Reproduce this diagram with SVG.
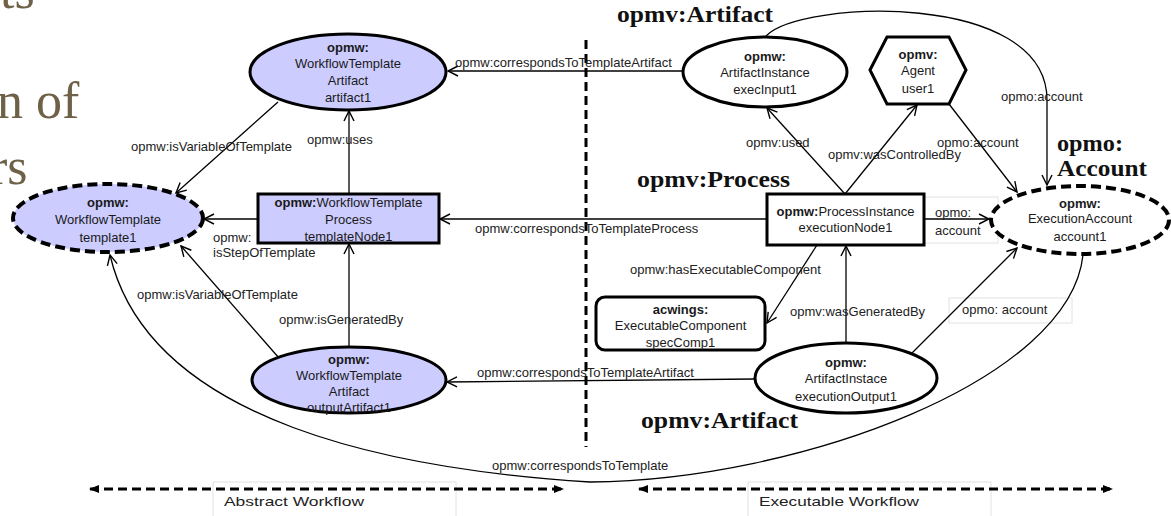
<svg xmlns="http://www.w3.org/2000/svg" width="1171" height="516" viewBox="0 0 1171 516">
<style>
.bg{font-family:"Liberation Serif",serif;font-size:52px;fill:#6f6148}
.ttl{font-family:"Liberation Serif",serif;font-size:24px;font-weight:bold;fill:#111}
.nt{font-family:"Liberation Sans",Arial,sans-serif;font-size:13px;fill:#1a1a1a;text-anchor:middle}
.b{font-weight:bold}
.lb{font-family:"Liberation Sans",Arial,sans-serif;font-size:13px;fill:#222}
.fill{fill:#ccccff;stroke:#000;stroke-width:3}
.wfill{fill:#fff;stroke:#000;stroke-width:3}
.dash{stroke-dasharray:10 5;stroke-width:4}
.c{fill:none;stroke:#000;stroke-width:1.3;marker-end:url(#arr)}
.gbox{fill:#fff;stroke:#e2e2e2;stroke-width:1}
.hd{fill:none;stroke:#000;stroke-width:3;stroke-dasharray:9 5;marker-start:url(#tri);marker-end:url(#tri)}
</style>
<defs>
<marker id="arr" viewBox="0 0 12 12" refX="11" refY="6" markerWidth="12" markerHeight="12" markerUnits="userSpaceOnUse" orient="auto">
<path d="M1,1 L11,6 L1,11" fill="none" stroke="#000" stroke-width="1.4"/>
</marker>
<marker id="tri" viewBox="0 0 10 10" refX="9" refY="5" markerWidth="10" markerHeight="10" markerUnits="userSpaceOnUse" orient="auto-start-reverse">
<path d="M0,1 L10,5 L0,9 z" fill="#000"/>
</marker>
</defs>
<rect width="1171" height="516" fill="#fff"/>
<g id="background-text">
<text class="bg" x="0" y="8">ts</text>
<text class="bg" x="-3" y="118">n of</text>
<text class="bg" x="-10" y="184">rs</text>
</g>
<g id="titles">
<text class="ttl" x="617" y="22" textLength="156" lengthAdjust="spacingAndGlyphs">opmv:Artifact</text>
<text class="ttl" x="637" y="187" textLength="153" lengthAdjust="spacingAndGlyphs">opmv:Process</text>
<text class="ttl" x="1057" y="151" textLength="66" lengthAdjust="spacingAndGlyphs">opmo:</text>
<text class="ttl" x="1057" y="176" textLength="90" lengthAdjust="spacingAndGlyphs">Account</text>
<text class="ttl" x="641" y="428" textLength="157" lengthAdjust="spacingAndGlyphs">opmv:Artifact</text>
</g>
<g id="label-boxes">
<rect class="gbox" x="924" y="197" width="74" height="46"/>
<rect class="gbox" x="949" y="298" width="123" height="25"/>
<rect class="gbox" x="213" y="482" width="243" height="40"/>
<rect class="gbox" x="748" y="482" width="243" height="40"/>
</g>
<g id="divider">
<line x1="586" y1="40" x2="586" y2="447" stroke="#000" stroke-width="3" stroke-dasharray="9 5"/>
<line class="hd" x1="90" y1="489" x2="563" y2="489"/>
<line class="hd" x1="639" y1="489" x2="1112" y2="489"/>
<text class="lb" x="224" y="506" font-size="16" textLength="140" lengthAdjust="spacingAndGlyphs">Abstract Workflow</text>
<text class="lb" x="759" y="506" font-size="16" textLength="160" lengthAdjust="spacingAndGlyphs">Executable Workflow</text>
</g>
<g id="connectors">
<path class="c" d="M683,71 L448,71"/>
<path class="c" d="M767,219 L440,219"/>
<path class="c" d="M755,379 L447,382"/>
<path class="c" d="M258,219 L204,219"/>
<path class="c" d="M349,194 L349,111"/>
<path class="c" d="M349,347 L349,244"/>
<path class="c" d="M278,102 L176,193"/>
<path class="c" d="M279,358 L181,246"/>
<path class="c" d="M1083,255 C1070,380 800,480 590,482 C400,470 150,425 110,255"/>
<path class="c" d="M845,194 L767,108"/>
<path class="c" d="M845,194 L917,105"/>
<path class="c" d="M949,104 L1017,192"/>
<path class="c" d="M766,36 C800,0 1047,-10 1047,100 L1047,185"/>
<path class="c" d="M924,219 L989,219"/>
<path class="c" d="M912,353 L1017,248"/>
<path class="c" d="M817,245 L767,323"/>
<path class="c" d="M846,343 L846,246"/>
</g>
<g id="connector-labels">
<text class="lb" x="455" y="67">opmw:correspondsToTemplateArtifact</text>
<text class="lb" x="475" y="233">opmw:correspondsToTemplateProcess</text>
<text class="lb" x="477" y="377">opmw:correspondsToTemplateArtifact</text>
<text class="lb" x="213" y="242">opmw:</text>
<text class="lb" x="213" y="257">isStepOfTemplate</text>
<text class="lb" x="307" y="144">opmw:uses</text>
<text class="lb" x="279" y="324">opmw:isGeneratedBy</text>
<text class="lb" x="131" y="151">opmw:isVariableOfTemplate</text>
<text class="lb" x="137" y="299">opmw:isVariableOfTemplate</text>
<text class="lb" x="492" y="470">opmw:correspondsToTemplate</text>
<text class="lb" x="746" y="147">opmv:used</text>
<text class="lb" x="828" y="159">opmv:wasControlledBy</text>
<text class="lb" x="937" y="147">opmo:account</text>
<text class="lb" x="1001" y="101">opmo:account</text>
<text class="lb" x="935" y="217">opmo:</text>
<text class="lb" x="935" y="235">account</text>
<text class="lb" x="630" y="274">opmw:hasExecutableComponent</text>
<text class="lb" x="790" y="316">opmv:wasGeneratedBy</text>
<text class="lb" x="962" y="314">opmo: account</text>
</g>
<g id="template1">
<ellipse class="fill dash" cx="108" cy="218" rx="95" ry="34"/>
<text class="nt b" x="108" y="207">opmw:</text>
<text class="nt" x="108" y="224">WorkflowTemplate</text>
<text class="nt" x="108" y="242">template1</text>
</g>
<g id="artifact1">
<ellipse class="fill" cx="348" cy="72" rx="98" ry="38"/>
<text class="nt b" x="348" y="52">opmw:</text>
<text class="nt" x="348" y="68">WorkflowTemplate</text>
<text class="nt" x="348" y="85">Artifact</text>
<text class="nt" x="348" y="102">artifact1</text>
</g>
<g id="templateNode1">
<rect class="fill" x="258" y="194" width="181" height="49"/>
<text class="nt" x="348.5" y="207"><tspan class="b">opmw:</tspan>WorkflowTemplate</text>
<text class="nt" x="348.5" y="224">Process</text>
<text class="nt" x="348.5" y="241">templateNode1</text>
</g>
<g id="outputArtifact1">
<ellipse class="fill" cx="349" cy="380" rx="97" ry="33"/>
<text class="nt b" x="349" y="364">opmw:</text>
<text class="nt" x="349" y="380">WorkflowTemplate</text>
<text class="nt" x="349" y="396">Artifact</text>
<text class="nt" x="349" y="412">outputArtifact1</text>
</g>
<g id="execInput1">
<ellipse class="wfill" cx="765" cy="72" rx="82" ry="35"/>
<text class="nt b" x="765" y="61">opmw:</text>
<text class="nt" x="765" y="77">ArtifactInstance</text>
<text class="nt" x="765" y="94">execInput1</text>
</g>
<g id="user1">
<polygon class="wfill" points="870,70 887,37 949,37 966,70 949,104 887,104"/>
<text class="nt b" x="918" y="59">opmv:</text>
<text class="nt" x="918" y="75">Agent</text>
<text class="nt" x="918" y="93">user1</text>
</g>
<g id="executionNode1">
<rect class="wfill" x="767" y="194" width="157" height="51"/>
<text class="nt" x="845.5" y="216"><tspan class="b">opmw:</tspan>ProcessInstance</text>
<text class="nt" x="845.5" y="232">executionNode1</text>
</g>
<g id="account1">
<ellipse class="wfill dash" cx="1080" cy="220" rx="89" ry="34"/>
<text class="nt b" x="1080" y="208">opmw:</text>
<text class="nt" x="1080" y="223">ExecutionAccount</text>
<text class="nt" x="1080" y="241">account1</text>
</g>
<g id="specComp1">
<rect class="wfill" x="596" y="297" width="169" height="53" rx="9"/>
<text class="nt b" x="680.5" y="314">acwings:</text>
<text class="nt" x="680.5" y="330">ExecutableComponent</text>
<text class="nt" x="680.5" y="347">specComp1</text>
</g>
<g id="executionOutput1">
<ellipse class="wfill" cx="846" cy="378" rx="91" ry="35"/>
<text class="nt b" x="846" y="367">opmw:</text>
<text class="nt" x="846" y="383">ArtifactInstace</text>
<text class="nt" x="846" y="401">executionOutput1</text>
</g>
</svg>
